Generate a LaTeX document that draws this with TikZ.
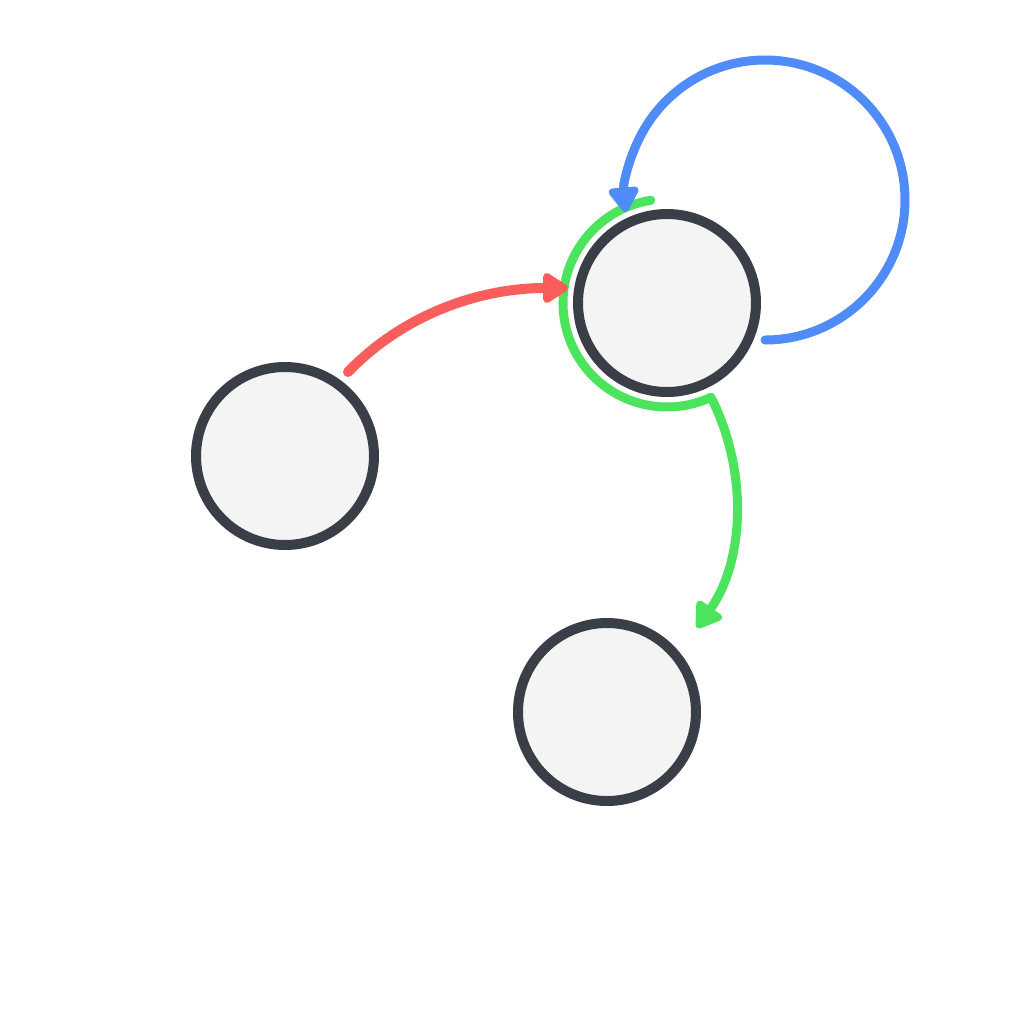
\documentclass[tikz,border=0pt]{standalone}
\usetikzlibrary{arrows.meta}

\definecolor{ringgray}{RGB}{58,62,70}
\definecolor{nodefill}{RGB}{244,244,244}
\definecolor{edgered}{RGB}{249,94,93}
\definecolor{edgeblue}{RGB}{79,139,249}
\definecolor{edgegreen}{RGB}{76,228,92}

\begin{document}
\begin{tikzpicture}[
  state/.style={circle, draw=ringgray, fill=nodefill, line width=0.1cm,
                minimum size=1.78cm, inner sep=0pt},
  arr/.style={-{Triangle[round, length=0.28cm, width=0.34cm]}, line width=0.09cm,
              line cap=round, line join=round},
]
  \useasboundingbox (0,0) rectangle (10.24,-10.24);

  % ----- States -----
  \node[state] (left)  at (2.85,-4.56) {};
  \node[state] (top)   at (6.67,-3.03) {};
  \node[state] (low)   at (6.07,-7.12) {};

  % ----- Green path: round the top state, then down -----
  \draw[arr, edgegreen]
    ([shift={(99:1.04)}]top.center) arc[start angle=99, end angle=295, radius=1.04]
    coordinate (gturn)
    .. controls (7.48,-4.70) and (7.45,-5.60) .. (6.97,-6.28) coordinate (gend);

  % ----- Red edge -----
  \coordinate (rstart) at (3.48,-3.72);
  \draw[arr, edgered, line width=0.1cm] (rstart) .. controls (4.06,-3.12) and (4.83,-2.88)
    .. ([shift={(-0.99,0.15)}]top.center);

  % ----- Blue self loop -----
  \draw[arr, edgeblue]
    ([shift={(0.98,-0.37)}]top.center) arc[start angle=-90, end angle=185, radius=1.4];
\end{tikzpicture}
\end{document}
